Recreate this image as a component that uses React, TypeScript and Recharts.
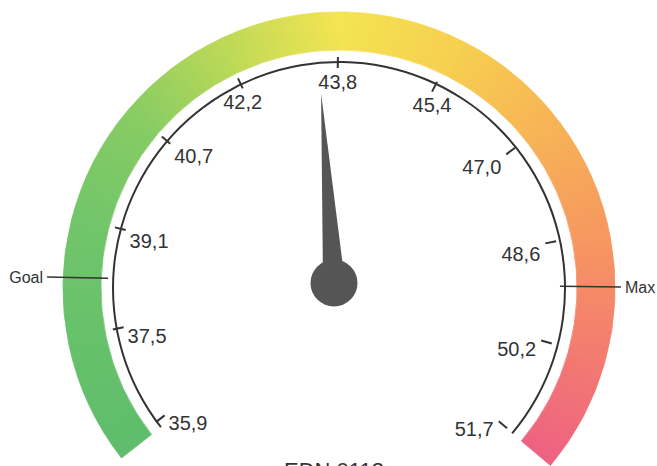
import {
  PieChart,
  Pie,
  Cell,
  RadialBarChart,
  RadialBar,
  PolarAngleAxis,
  PolarRadiusAxis,
} from "recharts";

// gauge values
const scaleMin = 35.9;
const scaleMax = 51.7;
const tickValues = [35.9, 37.5, 39.1, 40.7, 42.2, 43.8, 45.4, 47.0, 48.6, 50.2, 51.7];
const bandColors = [
  "#5fbd6b",
  "#67c16b",
  "#72c56a",
  "#88cc63",
  "#bcd957",
  "#f3e452",
  "#f6d04f",
  "#f7b456",
  "#f6985f",
  "#f37b70",
  "#ee6282",
];
const reading = 43.5;
const goalValue = 38.3;
const maxValue = 49.3;
const title = "EDN 0113";

const gaugeRow = [{ name: "gauge", reading, goal: goalValue, max: maxValue }];
const bandSegments = tickValues.slice(1).map((v, i) => ({
  name: `${tickValues[i]}-${v}`,
  value: v - tickValues[i],
}));

const W = 657;
const H = 490;
const CX = 334;
const CY = 283;
const START = 218;
const END = -40;
const SCALE_R = 226;
const BAND_IN = 238;
const BAND_OUT = 276;
const RAD = Math.PI / 180;
const FONT = '"Liberation Sans", Arial, sans-serif';
const INK = "#333";

const polar = (r: number, angle: number) => ({
  x: CX + r * Math.cos(-angle * RAD),
  y: CY + r * Math.sin(-angle * RAD),
});
const angleOf = (v: number) =>
  START - ((v - scaleMin) / (scaleMax - scaleMin)) * (START - END);
const fmt = (v: number) => v.toFixed(1).replace(".", ",");

const renderTick = (props: any) => {
  const { x, y, payload } = props;
  const cos = Math.cos(payload.coordinate * RAD);
  const sin = Math.sin(payload.coordinate * RAD);
  const anchor = cos < -0.5 ? "start" : cos > 0.5 ? "end" : "middle";
  const dx = anchor === "start" ? 4 : anchor === "end" ? -5 : 0;
  return (
    <text
      x={x + dx}
      y={y + 10 + 4 * sin}
      textAnchor={anchor}
      dominantBaseline="central"
      fontSize={20}
      fontFamily={FONT}
      fill={INK}
    >
      {fmt(payload.value)}
    </text>
  );
};

const renderNeedle = (props: any) => {
  const { cx, cy, endAngle } = props;
  const a = endAngle * RAD;
  const tipX = cx + 190 * Math.cos(-a);
  const tipY = cy + 190 * Math.sin(-a);
  const nx = Math.sin(a) * 11;
  const ny = Math.cos(a) * 11;
  return (
    <g>
      <polygon
        points={`${tipX},${tipY} ${cx + nx},${cy + ny} ${cx - nx},${cy - ny}`}
        fill="#555"
      />
      <circle cx={cx} cy={cy} r={23.5} fill="#555" />
    </g>
  );
};

const markerShape = (label: string) => (props: any) => {
  const { cx, cy, endAngle } = props;
  const a = -endAngle * RAD;
  const cos = Math.cos(a);
  const p1 = { x: cx + SCALE_R * cos, y: cy + SCALE_R * Math.sin(a) };
  const p2 = { x: cx + 287 * cos, y: cy + 287 * Math.sin(a) };
  return (
    <g>
      <line x1={p1.x} y1={p1.y} x2={p2.x} y2={p2.y} stroke={INK} strokeWidth={1.5} />
      <text
        x={p2.x + (cos < 0 ? -4 : 4)}
        y={p2.y}
        textAnchor={cos < 0 ? "end" : "start"}
        dominantBaseline="central"
        fontSize={16}
        fontFamily={FONT}
        fill={INK}
      >
        {label}
      </text>
    </g>
  );
};

export default function App() {
  return (
    <div
      style={{
        position: "fixed",
        left: 0,
        top: 0,
        width: 657,
        height: 466,
        overflow: "hidden",
        background: "#fff",
      }}
    >
      <div style={{ position: "absolute", left: 0, top: 0 }}>
        <PieChart width={W} height={H}>
          <defs>
            {bandSegments.map((s, i) => {
              const p0 = polar(257, angleOf(tickValues[i]));
              const p1 = polar(257, angleOf(tickValues[i + 1]));
              return (
                <linearGradient
                  key={s.name}
                  id={`band-${i}`}
                  gradientUnits="userSpaceOnUse"
                  x1={p0.x}
                  y1={p0.y}
                  x2={p1.x}
                  y2={p1.y}
                >
                  <stop offset="0%" stopColor={bandColors[i]} />
                  <stop offset="100%" stopColor={bandColors[i + 1]} />
                </linearGradient>
              );
            })}
          </defs>
          <Pie
            data={bandSegments}
            dataKey="value"
            cx={CX}
            cy={CY}
            innerRadius={BAND_IN}
            outerRadius={BAND_OUT}
            startAngle={START}
            endAngle={END}
            isAnimationActive={false}
          >
            {bandSegments.map((s, i) => (
              <Cell
                key={s.name}
                fill={`url(#band-${i})`}
                stroke={`url(#band-${i})`}
                strokeWidth={0.8}
              />
            ))}
          </Pie>
          <Pie
            data={[{ name: "scale", value: scaleMax - scaleMin }]}
            dataKey="value"
            cx={CX}
            cy={CY}
            innerRadius={SCALE_R - 1}
            outerRadius={SCALE_R + 1}
            startAngle={START}
            endAngle={END}
            fill={INK}
            stroke="none"
            isAnimationActive={false}
          />
          <text
            x={CX}
            y={478}
            textAnchor="middle"
            fontSize={22}
            fontFamily={FONT}
            fill={INK}
          >
            {title}
          </text>
        </PieChart>
      </div>
      <div style={{ position: "absolute", left: 0, top: 0 }}>
        <RadialBarChart
          width={W}
          height={H}
          cx={CX}
          cy={CY}
          innerRadius={0}
          outerRadius={SCALE_R}
          startAngle={START}
          endAngle={END}
          data={gaugeRow}
        >
          <PolarAngleAxis
            type="number"
            domain={[scaleMin, scaleMax]}
            ticks={tickValues}
            axisLine={false}
            tickLine={{ stroke: INK, strokeWidth: 2 }}
            orientation="inner"
            tickSize={11}
            tick={renderTick}
          />
          <PolarRadiusAxis type="category" tick={false} axisLine={false} />
          <RadialBar dataKey="goal" shape={markerShape("Goal")} isAnimationActive={false} />
          <RadialBar dataKey="max" shape={markerShape("Max")} isAnimationActive={false} />
          <RadialBar dataKey="reading" shape={renderNeedle} isAnimationActive={false} />
        </RadialBarChart>
      </div>
    </div>
  );
}
